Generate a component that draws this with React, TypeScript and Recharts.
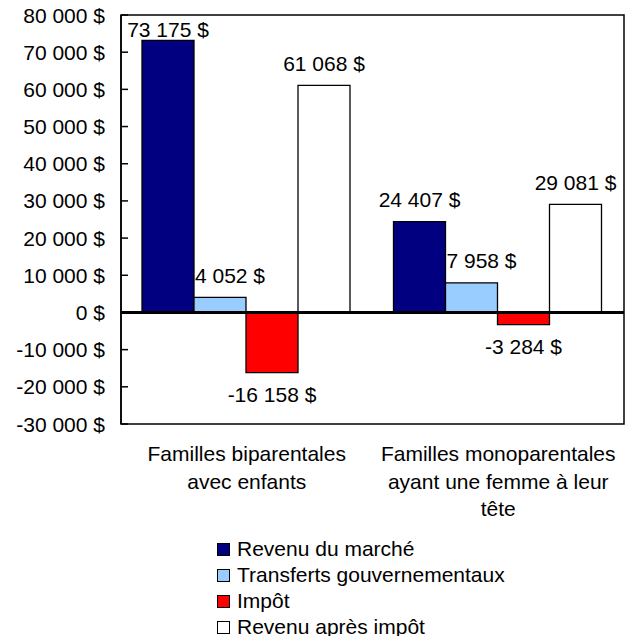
import { BarChart, Bar, XAxis, YAxis, ReferenceLine, ReferenceArea, Legend } from "recharts";

const categories = [
  "Familles biparentales\navec enfants",
  "Familles monoparentales\nayant une femme à leur\ntête",
];
const revenuMarche = [73175, 24407];
const transferts = [4052, 7958];
const impot = [-16158, -3284];
const revenuApresImpot = [61068, 29081];
const yTicks = [-30000, -20000, -10000, 0, 10000, 20000, 30000, 40000, 50000, 60000, 70000, 80000];

const FONT = "'Liberation Sans', Arial, sans-serif";
const PLOT_TOP = 15;

const series = [
  { key: "marche", name: "Revenu du marché", color: "#000080", labelDx: 0 },
  { key: "transferts", name: "Transferts gouvernementaux", color: "#99CCFF", labelDx: 10 },
  { key: "impot", name: "Impôt", color: "#FF0000", labelDx: 0 },
  { key: "apres", name: "Revenu après impôt", color: "#FFFFFF", labelDx: 0 },
];

const data = categories.map((name, i) => ({
  name,
  marche: revenuMarche[i],
  transferts: transferts[i],
  impot: impot[i],
  apres: revenuApresImpot[i],
}));

const fmt = (v: number) => {
  const s = Math.abs(v).toString().replace(/\B(?=(\d{3})+(?!\d))/g, " ");
  return (v < 0 ? "-" : "") + s + " $";
};

const YTick = ({ x, y, payload }: any) => (
  <g>
    <line x1={x + 16} x2={x + 23} y1={y} y2={y} stroke="#000" strokeWidth={1.5} />
    <text x={x} y={y} textAnchor="end" dominantBaseline="central" fontFamily={FONT} fontSize={21} fill="#000">
      {fmt(payload.value)}
    </text>
  </g>
);

const XTick = ({ x, y, payload }: any) => (
  <text x={x} y={y + 37} textAnchor="middle" fontFamily={FONT} fontSize={21} fill="#000">
    {String(payload.value)
      .split("\n")
      .map((line: string, i: number) => (
        <tspan key={i} x={x} dy={i === 0 ? 0 : 27.5}>
          {line}
        </tspan>
      ))}
  </text>
);

const makeLabel = (dx: number) => (props: any) => {
  const { x, y, width, height, value } = props;
  const top = Math.min(y, y + height);
  const bottom = Math.max(y, y + height);
  const cy = value >= 0 ? Math.max(top - 22, PLOT_TOP + 14) : bottom + 22;
  return (
    <text
      x={x + width / 2 + dx}
      y={cy}
      textAnchor="middle"
      dominantBaseline="central"
      fontFamily={FONT}
      fontSize={21}
      fill="#000"
    >
      {fmt(value)}
    </text>
  );
};

const LegendContent = () => (
  <div style={{ fontFamily: FONT, fontSize: 21, color: "#000" }}>
    {series.map((s) => (
      <div key={s.key} style={{ display: "flex", alignItems: "center", height: 26, lineHeight: "26px", whiteSpace: "nowrap" }}>
        <span
          style={{
            display: "inline-block",
            width: 11,
            height: 11,
            background: s.color,
            border: "1px solid #000",
            marginRight: 7,
          }}
        />
        {s.name}
      </div>
    ))}
  </div>
);

export default function App() {
  return (
    <div style={{ position: "absolute", left: 0, top: 0, width: 631, height: 636, background: "#fff" }}>
      <BarChart
        width={631}
        height={636}
        data={data}
        margin={{ top: PLOT_TOP, right: 7, bottom: 182, left: 0 }}
        barCategoryGap={21}
        barGap={0}
      >
        <XAxis dataKey="name" axisLine={false} tickLine={false} tickSize={0} tickMargin={0} interval={0} tick={<XTick />} height={30} />
        <YAxis
          type="number"
          domain={[-30000, 80000]}
          ticks={yTicks}
          interval={0}
          width={121}
          tickLine={false}
          tickSize={0}
          tickMargin={16}
          axisLine={{ stroke: "#000", strokeWidth: 1.5 }}
          tick={<YTick />}
        />
        {series.map((s) => (
          <Bar
            key={s.key}
            dataKey={s.key}
            name={s.name}
            fill={s.color}
            stroke="#000"
            strokeWidth={1.3}
            isAnimationActive={false}
            label={makeLabel(s.labelDx)}
          />
        ))}
        <ReferenceArea y1={-30000} y2={80000} fill="none" fillOpacity={0} stroke="#000" strokeWidth={1.5} />
        <ReferenceLine y={0} stroke="#000" strokeWidth={3} />
        <Legend
          layout="vertical"
          align="center"
          verticalAlign="middle"
          content={<LegendContent />}
          wrapperStyle={{ left: 217, top: 536, width: 400 }}
        />
      </BarChart>
    </div>
  );
}
